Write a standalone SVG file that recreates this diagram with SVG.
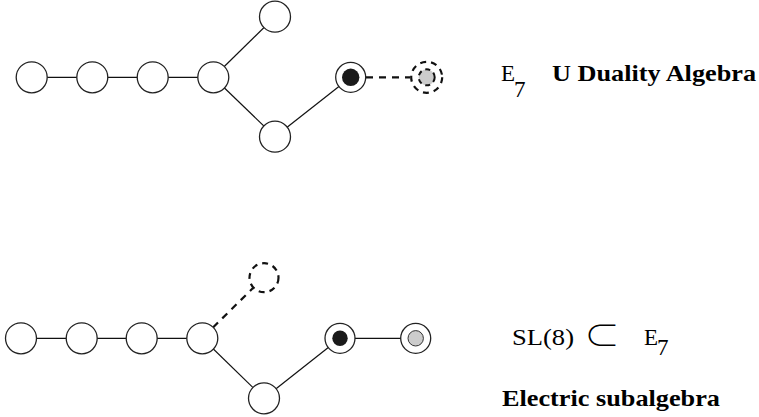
<svg xmlns="http://www.w3.org/2000/svg" width="759" height="417" viewBox="0 0 759 417">
<style>
.n{fill:#fff;stroke:#222;stroke-width:1.3}
.d{fill:#fff;stroke:#111;stroke-width:2.2;stroke-dasharray:6 5}
.di{fill:#ccc;stroke:#111;stroke-width:2;stroke-dasharray:5 4}
.l{stroke:#111;stroke-width:1.2;fill:none}
.dl{stroke:#111;stroke-width:2.2;stroke-dasharray:7 6;fill:none}
text{fill:#000}
</style>
<rect width="759" height="417" fill="#fff"/>
<g id="connectors">
<line class="l" x1="31.7" y1="77.3" x2="213.3" y2="77.3"/>
<line class="l" x1="213.3" y1="77.3" x2="275" y2="16.7"/>
<line class="l" x1="213.3" y1="77.3" x2="275" y2="136.7"/>
<line class="l" x1="275" y1="136.7" x2="350.7" y2="77.3"/>
<line class="dl" x1="366" y1="77.3" x2="410" y2="77.3"/>
<line class="l" x1="21" y1="338.3" x2="202.3" y2="338.3"/>
<line class="dl" x1="213" y1="327.5" x2="253" y2="288"/>
<line class="l" x1="202.3" y1="338.3" x2="264" y2="398.3"/>
<line class="l" x1="264" y1="398.3" x2="340" y2="338.3"/>
<line class="l" x1="340" y1="338.3" x2="415.7" y2="338.3"/>
</g>
<g id="top-n1"><circle class="n" cx="31.7" cy="77.3" r="15.5"/></g>
<g id="top-n2"><circle class="n" cx="92.3" cy="77.3" r="15.5"/></g>
<g id="top-n3"><circle class="n" cx="152.7" cy="77.3" r="15.5"/></g>
<g id="top-n4"><circle class="n" cx="213.3" cy="77.3" r="15.5"/></g>
<g id="top-n5"><circle class="n" cx="275" cy="16.7" r="15.5"/></g>
<g id="top-n6"><circle class="n" cx="275" cy="136.7" r="15.5"/></g>
<g id="top-n7"><circle class="n" cx="350.7" cy="77.3" r="15"/><circle cx="350.7" cy="77.3" r="8.7" fill="#1a1a1a"/></g>
<g id="top-n8"><circle class="d" cx="426.7" cy="77.3" r="15.5"/><circle class="di" cx="426.7" cy="77.3" r="8"/></g>
<g id="bot-n1"><circle class="n" cx="21" cy="338.3" r="15.5"/></g>
<g id="bot-n2"><circle class="n" cx="81.7" cy="338.3" r="15.5"/></g>
<g id="bot-n3"><circle class="n" cx="141.7" cy="338.3" r="15.5"/></g>
<g id="bot-n4"><circle class="n" cx="202.3" cy="338.3" r="15.5"/></g>
<g id="bot-n5"><circle class="d" cx="264" cy="277.7" r="14.5"/></g>
<g id="bot-n6"><circle class="n" cx="264" cy="398.3" r="15.5"/></g>
<g id="bot-n7"><circle class="n" cx="340" cy="338.3" r="15"/><circle cx="340" cy="338.3" r="7.7" fill="#1a1a1a"/></g>
<g id="bot-n8"><circle class="n" cx="415.7" cy="338.3" r="15"/><circle cx="415.7" cy="338.3" r="7.7" fill="#ccc" stroke="#333" stroke-width="1"/></g>
<g id="labels" font-family="Liberation Serif, Times New Roman, serif" font-size="23">
<text x="501" y="80.5">E<tspan x="514" y="96.5">7</tspan></text>
<text x="552" y="80.5" font-weight="bold" textLength="204" lengthAdjust="spacingAndGlyphs">U Duality Algebra</text>
<text x="512" y="344.5" textLength="62" lengthAdjust="spacingAndGlyphs">SL(8)</text>
<text x="584" y="347" font-family="Noto Sans CJK JP, sans-serif" font-weight="300" font-size="32" textLength="36" lengthAdjust="spacingAndGlyphs">⊂</text>
<text x="644" y="344.5">E<tspan x="657" y="355">7</tspan></text>
<text x="502" y="406" font-weight="bold" textLength="218" lengthAdjust="spacingAndGlyphs">Electric subalgebra</text>
</g>
</svg>
